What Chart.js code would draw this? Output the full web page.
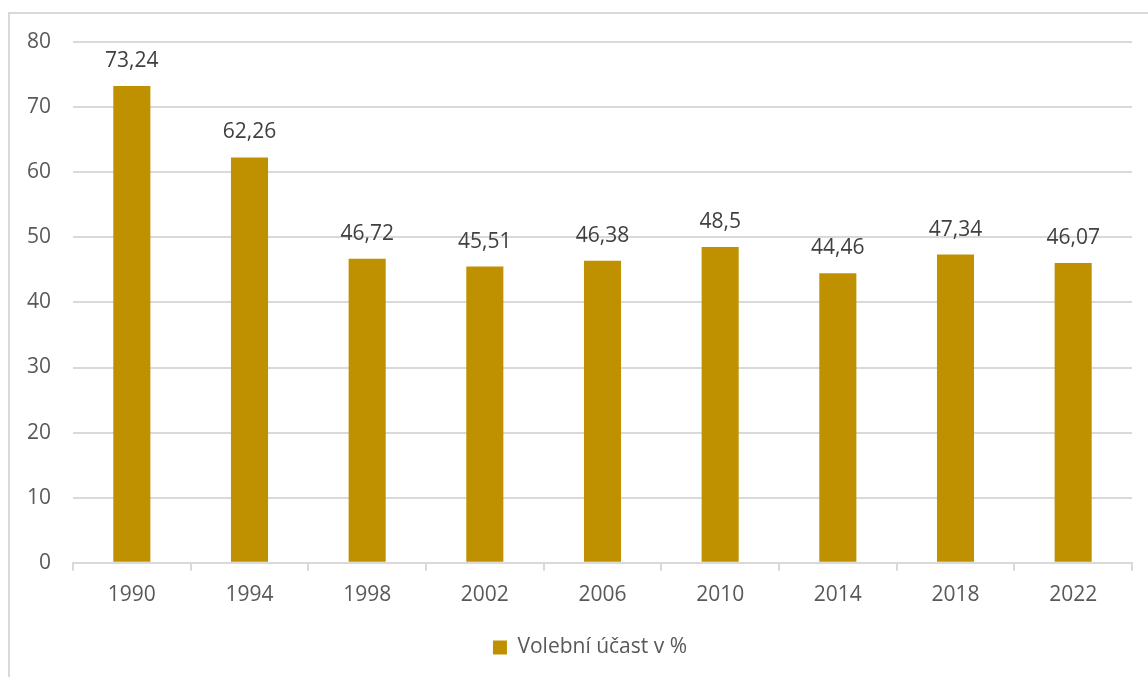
<!DOCTYPE html>
<html>
<head>
<meta charset="utf-8">
<script src="https://cdn.jsdelivr.net/npm/chart.js@4/dist/chart.umd.min.js"></script>
<style>
  html, body { margin: 0; padding: 0; background: #fff; overflow: hidden; }
  #ramecek { position: absolute; left: 8px; top: 12px; width: 1300px; height: 800px; border: 2px solid #d9d9d9; }
  #obal { position: absolute; left: 0; top: 0; width: 1148px; height: 677px; }
</style>
</head>
<body>
<div id="ramecek"></div>
<div id="obal"><canvas id="graf"></canvas></div>
<script>
// roky voleb a účast
const roky = ['1990', '1994', '1998', '2002', '2006', '2010', '2014', '2018', '2022'];
const ucast = [73.24, 62.26, 46.72, 45.51, 46.38, 48.5, 44.46, 47.34, 46.07];
const nazevRady = 'Volební účast v %';

const pismo = "'Open Sans', 'Noto Sans', sans-serif";
const velikost = 21;

// popisky nad sloupci (čárka jako desetinný oddělovač)
const popiskyPlugin = {
    id: 'popisky',
    afterLayout(chart) {
        // legenda je v originále trochu víc vpravo (střed podle plochy grafu)
        if (chart.legend) {
            chart.legend.left += 24;
            chart.legend.right += 24;
        }
    },
    afterDatasetsDraw(chart) {
        const ctx = chart.ctx;
        const meta = chart.getDatasetMeta(0);
        ctx.save();
        ctx.font = velikost + 'px ' + pismo;
        ctx.fillStyle = '#404040';
        ctx.textAlign = 'center';
        ctx.textBaseline = 'middle';
        meta.data.forEach((bar, i) => {
            const txt = String(ucast[i]).replace('.', ',');
            ctx.fillText(txt, bar.x, bar.y - 25);
        });
        ctx.restore();
    }
};

new Chart(document.getElementById('graf'), {
    type: 'bar',
    data: {
        labels: roky,
        datasets: [{
            label: nazevRady,
            data: ucast,
            backgroundColor: '#bf9000',
            borderWidth: 0,
            categoryPercentage: 1,
            barPercentage: 0.315
        }]
    },
    options: {
        responsive: true,
        maintainAspectRatio: false,
        animation: false,
        layout: { padding: { left: 0, right: 16, top: 42, bottom: 9 } },
        plugins: {
            tooltip: { enabled: false },
            legend: {
                position: 'bottom',
                labels: {
                    boxWidth: 14, boxHeight: 14, padding: 24,
                    color: '#595959',
                    font: { family: pismo, size: velikost }
                }
            }
        },
        scales: {
            x: {
                afterFit(scale) { scale.height -= 7; },
                grid: { offset: true, drawOnChartArea: false, color: '#d9d9d9', lineWidth: 2, tickLength: 8 },
                border: { color: '#d9d9d9', width: 2 },
                ticks: { color: '#595959', font: { family: pismo, size: velikost }, padding: 12 }
            },
            y: {
                min: 0, max: 80,
                afterFit(scale) { scale.width = 73; },
                grid: { color: '#d9d9d9', lineWidth: 2, tickLength: 0 },
                border: { display: false },
                ticks: { stepSize: 10, color: '#595959', font: { family: pismo, size: velikost }, padding: 22 }
            }
        }
    },
    plugins: [popiskyPlugin]
});
</script>
</body>
</html>
